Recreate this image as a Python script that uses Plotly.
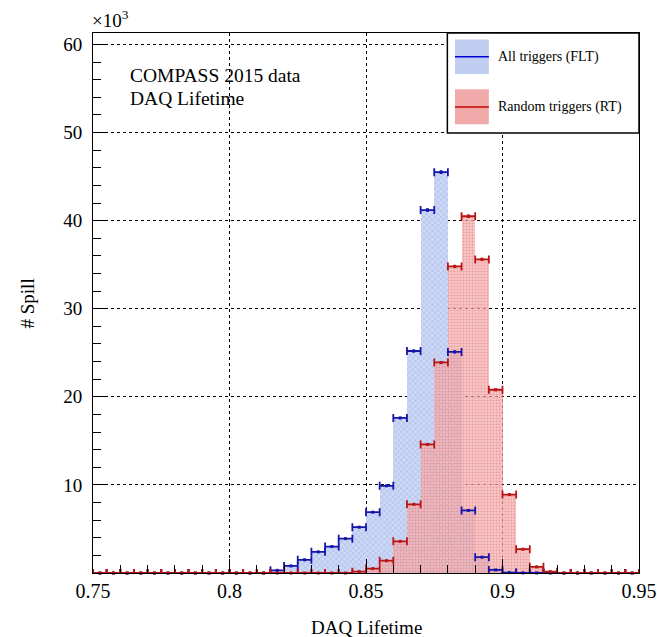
import numpy as np
import plotly.graph_objects as go

# ---- data (thousands of spills per bin of DAQ lifetime) ----
bin_width = 0.005
bin_lo = [round(0.75 + 0.005 * i, 3) for i in range(40)]
flt_counts = [0, 0, 0, 0, 0, 0, 0, 0, 0, 0, 0, 0, 0,
              0.3, 0.8, 1.5, 2.4, 3.0, 3.9, 5.2, 6.9, 9.9, 17.6, 25.2,
              41.2, 45.5, 25.1, 7.1, 1.8, 0.35, 0.05, 0.02, 0.01,
              0, 0, 0, 0, 0, 0, 0]
rt_counts = [0] * 19 + [0.15, 0.5, 1.4, 3.6, 7.8, 14.6, 23.9, 34.8, 40.5,
                        35.6, 20.8, 8.9, 2.7, 0.7, 0.15, 0, 0, 0, 0, 0, 0]
x_ticks = [0.75, 0.8, 0.85, 0.9, 0.95]
y_ticks = [10, 20, 30, 40, 50, 60]

centers = [b + bin_width / 2 for b in bin_lo]
flt_err = [np.sqrt(v * 1000) / 1000 for v in flt_counts]
rt_err = [np.sqrt(v * 1000) / 1000 for v in rt_counts]

SERIF = "Liberation Serif, Times New Roman, serif"
BLUE = "rgb(20,20,170)"
RED = "rgb(185,20,20)"

fig = go.Figure()

fig.add_trace(go.Bar(
    x=centers, y=flt_counts, width=bin_width,
    marker=dict(color="rgba(205,216,244,1)", line=dict(width=0),
                pattern=dict(shape="x", fgcolor="rgb(135,160,225)", size=4,
                             solidity=0.3, fillmode="overlay")),
    showlegend=False, hoverinfo="skip"))
fig.add_trace(go.Bar(
    x=centers, y=rt_counts, width=bin_width,
    marker=dict(color="rgba(244,175,175,0.7)", line=dict(width=0),
                pattern=dict(shape=".", fgcolor="rgb(230,110,110)", size=3,
                             solidity=0.35, fillmode="overlay")),
    showlegend=False, hoverinfo="skip"))

for vals, errs, col in [(flt_counts, flt_err, BLUE), (rt_counts, rt_err, RED)]:
    fig.add_trace(go.Scatter(
        x=centers, y=vals, mode="markers",
        marker=dict(symbol="square", size=3, color=col),
        error_x=dict(type="constant", value=bin_width / 2, width=4,
                     thickness=1.8, color=col),
        error_y=dict(type="data", array=errs, width=0, thickness=2.5, color=col),
        cliponaxis=False, showlegend=False, hoverinfo="skip"))

fig.update_layout(
    width=657, height=637, autosize=False,
    margin=dict(l=93, r=18, t=33, b=64, autoexpand=False),
    paper_bgcolor="white", plot_bgcolor="white",
    barmode="overlay", bargap=0,
    font=dict(family=SERIF, color="black"),
)

fig.update_xaxes(
    range=[0.75, 0.95], tickvals=x_ticks, ticktext=[f"{v:g}" for v in x_ticks],
    ticks="inside", ticklen=14, tickwidth=1, tickcolor="black",
    minor=dict(dtick=0.01, tick0=0.75, ticks="inside", ticklen=8, tickcolor="black",
               showgrid=False),
    showline=True, linecolor="black", linewidth=1, mirror=True,
    showgrid=True, gridcolor="black", griddash="dot", gridwidth=1,
    tickfont=dict(size=20, family=SERIF), ticklabelstandoff=0,
    zeroline=False, automargin=False, layer="above traces",
)
fig.update_yaxes(
    range=[0, 61.3], tickvals=y_ticks, ticktext=[str(v) for v in y_ticks],
    ticks="inside", ticklen=15, tickwidth=1, tickcolor="black",
    minor=dict(dtick=2, ticks="inside", ticklen=8, tickcolor="black",
               showgrid=False),
    showline=True, linecolor="black", linewidth=1, mirror=True,
    showgrid=True, gridcolor="black", griddash="dot", gridwidth=1,
    tickfont=dict(size=19, family=SERIF), ticklabelstandoff=6,
    zeroline=False, automargin=False,
)

ann = []
ann.append(dict(x=-0.005, y=1.0, xref="paper", yref="paper", xanchor="left",
                yanchor="bottom", text="×10<sup>3</sup>", showarrow=False,
                font=dict(size=19, family=SERIF)))
ann.append(dict(x=0.064, y=0.922, xref="paper", yref="paper", xanchor="left",
                yanchor="middle", text="COMPASS 2015 data", showarrow=False,
                font=dict(size=19.5, family=SERIF)))
ann.append(dict(x=0.064, y=0.879, xref="paper", yref="paper", xanchor="left",
                yanchor="middle", text="DAQ Lifetime", showarrow=False,
                font=dict(size=19.5, family=SERIF)))
ann.append(dict(x=0.5, y=-0.1, xref="paper", yref="paper", xanchor="center",
                yanchor="middle", text="DAQ Lifetime", showarrow=False,
                font=dict(size=19, family=SERIF)))
ann.append(dict(x=-0.12, y=0.5, xref="paper", yref="paper", xanchor="center",
                yanchor="middle", text="# Spill", showarrow=False, textangle=-90,
                font=dict(size=19, family=SERIF)))
ann.append(dict(x=0.738, y=0.956, xref="paper", yref="paper", xanchor="left",
                yanchor="middle", text="All triggers (FLT)", showarrow=False,
                font=dict(size=14, family=SERIF)))
ann.append(dict(x=0.738, y=0.863, xref="paper", yref="paper", xanchor="left",
                yanchor="middle", text="Random triggers (RT)", showarrow=False,
                font=dict(size=14, family=SERIF)))

shapes = [
    dict(type="rect", xref="paper", yref="paper", x0=0.649, x1=1.0, y0=0.815, y1=1.0,
         line=dict(color="black", width=1.5), fillcolor="white", layer="above"),
    dict(type="rect", xref="paper", yref="paper", x0=0.663, x1=0.725, y0=0.924, y1=0.988,
         line=dict(width=0), fillcolor="rgb(190,205,240)", layer="above"),
    dict(type="line", xref="paper", yref="paper", x0=0.663, x1=0.725, y0=0.956, y1=0.956,
         line=dict(color="rgb(0,0,210)", width=1.5), layer="above"),
    dict(type="rect", xref="paper", yref="paper", x0=0.663, x1=0.725, y0=0.831, y1=0.896,
         line=dict(width=0), fillcolor="rgb(240,170,170)", layer="above"),
    dict(type="line", xref="paper", yref="paper", x0=0.663, x1=0.725, y0=0.863, y1=0.863,
         line=dict(color="rgb(200,0,0)", width=1.5), layer="above"),
]
fig.update_layout(annotations=ann, shapes=shapes)

fig.write_html(
    "out.html",
    config={"responsive": False, "displayModeBar": False},
    post_script=("document.body.style.margin='0';document.body.style.padding='0';"
                 "document.body.style.overflow='hidden';"
                 "document.documentElement.style.overflow='hidden';"),
)
